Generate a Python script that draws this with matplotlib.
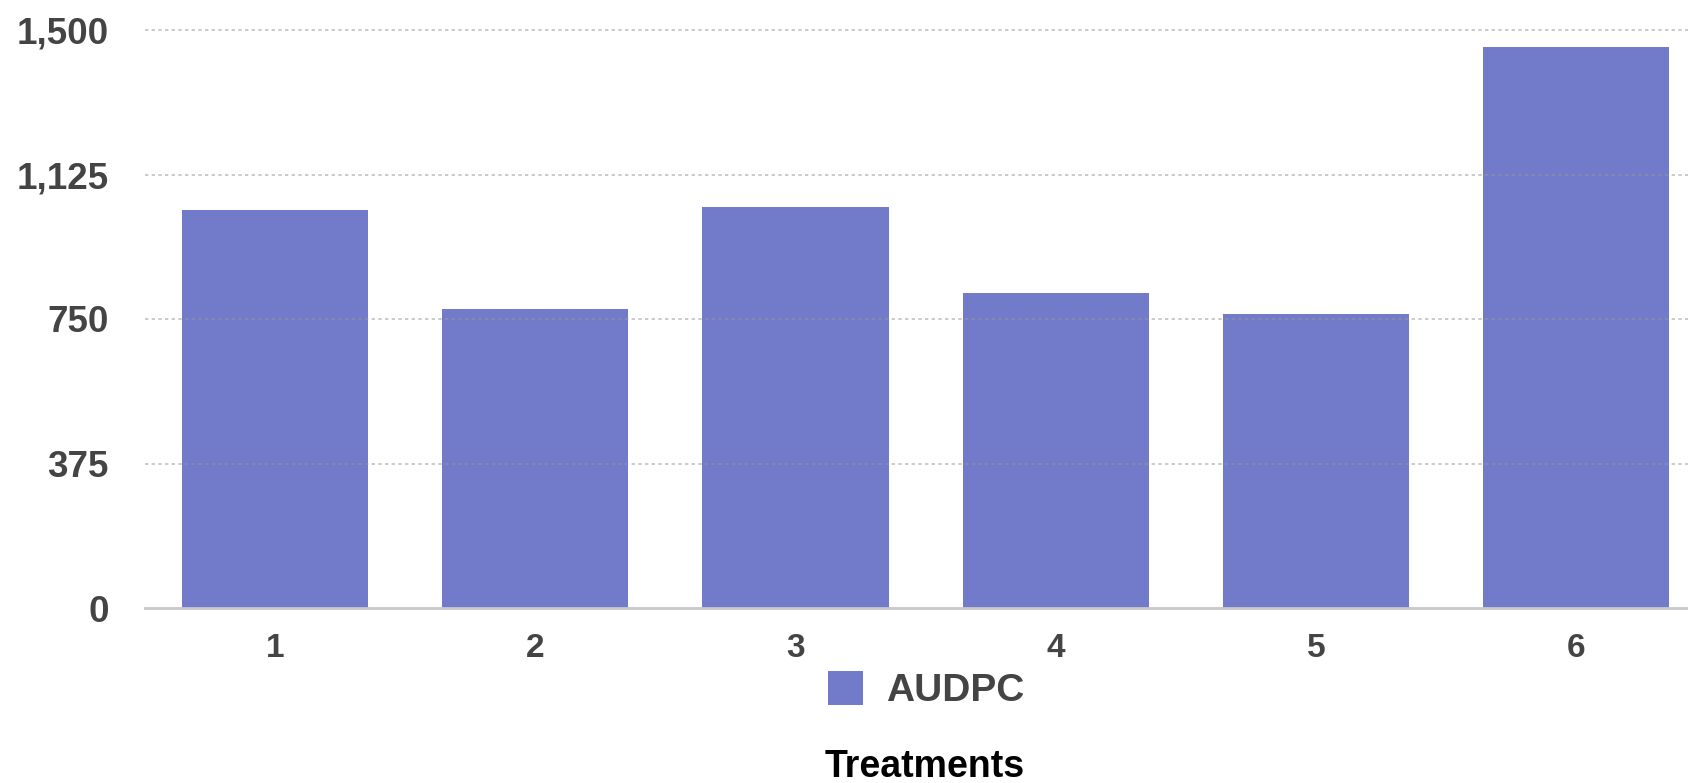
from matplotlib import pyplot as plt
from matplotlib.ticker import FuncFormatter

# данные по вариантам обработки
treatments = ['1', '2', '3', '4', '5', '6']
audpc = [1032, 777, 1041, 818, 763, 1456]
y_ticks = [0, 375, 750, 1125, 1500]

bar_color = '#727aca'
text_color = '#444444'

plt.rcParams['font.family'] = ['Liberation Sans', 'DejaVu Sans']

fig = plt.figure(figsize=(16.88, 7.83), dpi=100)
ax = fig.add_axes([145 / 1688, 175 / 783, 6 * 260.2 / 1688, 578 / 783])

x = range(len(treatments))
ax.bar(x, audpc, width=0.715, color=bar_color, label='AUDPC', zorder=2)

ax.set_xlim(-0.5, 5.5)
ax.set_ylim(0, 1500)
ax.set_yticks(y_ticks)
ax.yaxis.set_major_formatter(FuncFormatter(lambda v, p: f'{int(v):,}'))
ax.set_xticks(list(x))
ax.set_xticklabels(treatments)

# пунктирная сетка поверх столбцов
for y in y_ticks[1:]:
    ax.axhline(y, color='#999999', alpha=0.6, linewidth=1.2,
               linestyle=(0, (2, 2)), zorder=3, clip_on=False)

for side in ['top', 'right', 'left']:
    ax.spines[side].set_visible(False)
ax.spines['bottom'].set_color('#c8c8c8')
ax.spines['bottom'].set_linewidth(2)

ax.tick_params(axis='y', length=0, pad=26, labelsize=26.5, labelcolor=text_color)
ax.tick_params(axis='x', length=0, pad=18, labelsize=24, labelcolor=text_color)
for lbl in ax.get_xticklabels() + ax.get_yticklabels():
    lbl.set_fontweight('bold')

leg = fig.legend(loc='center', bbox_to_anchor=(926 / 1688, 1 - 690 / 783),
                 frameon=False, prop={'size': 28, 'weight': 'bold'},
                 handlelength=0.9, handleheight=1.0, handletextpad=0.6)
for t in leg.get_texts():
    t.set_color(text_color)

fig.text(925 / 1688, 6 / 783, 'Treatments', ha='center', va='baseline',
         fontsize=27, fontweight='bold', color='black')

fig.savefig('out.png', dpi=100)
